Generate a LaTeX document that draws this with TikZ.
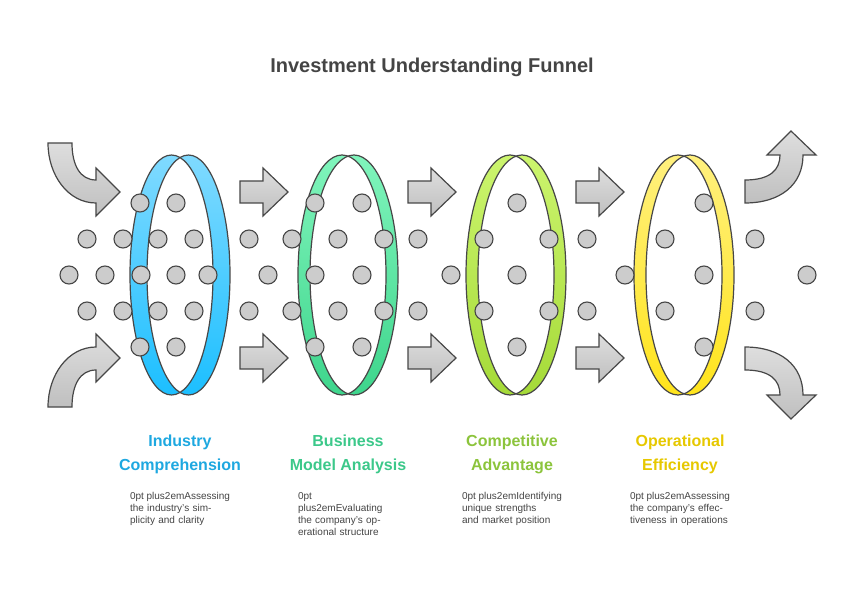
\documentclass[tikz,border=0pt]{standalone}
\usepackage{fontspec}
\setmainfont{Liberation Sans}
\usetikzlibrary{positioning}
\definecolor{edge}{HTML}{474747}
\definecolor{ink}{HTML}{444444}
\definecolor{cyanA}{HTML}{80DAFF}\definecolor{cyanB}{HTML}{1CBFFF}
\definecolor{greenA}{HTML}{80F5BC}\definecolor{greenB}{HTML}{3ED58C}
\definecolor{limeA}{HTML}{CCF56E}\definecolor{limeB}{HTML}{A5DA38}
\definecolor{yellA}{HTML}{FFF07E}\definecolor{yellB}{HTML}{FFE41C}
\definecolor{capBlue}{HTML}{1EA8E0}\definecolor{capGreen}{HTML}{3CC88A}
\definecolor{capLime}{HTML}{8CC43C}\definecolor{capYell}{HTML}{E6C800}
\tikzset{
  flow/.style={draw=edge, line width=1.2pt, top color=black!13, bottom color=black!25},
  dot/.style={circle, draw=edge, line width=1.1pt, fill=black!20, minimum size=18pt, inner sep=0pt},
  stage/.style={font=\bfseries\fontsize{16}{24}\selectfont, align=center},
  desc/.style={text=ink, font=\hyphenpenalty=10000\fontsize{12}{18}\selectfont, align=center, text width=100pt},
}
\newcommand\funnelring[4]{%
  \shade[top color=#2, bottom color=#3] (#1+#4,275) ellipse (50-#4 and 120);
  \shade[top color=#2, bottom color=#3] (#1-#4,275) ellipse (50-#4 and 120);
  \begin{scope}
    \clip (#1-#4,275) ellipse (50-#4 and 120);
    \fill[white] (#1+#4,275) ellipse (50-#4 and 120);
  \end{scope}
  \draw[edge, line width=1.2pt] (#1+#4,275) ellipse (50-#4 and 120);
  \draw[edge, line width=1.2pt] (#1-#4,275) ellipse (50-#4 and 120);
}
\begin{document}
\begin{tikzpicture}[x=1pt, y=-1pt]
  \useasboundingbox (0,0) rectangle (864,612);
  \node[text=ink, font=\bfseries\fontsize{20}{24}\selectfont] (title) at (432,67) {Investment Understanding Funnel};

  % rings
  \funnelring{180}{cyanA}{cyanB}{8.5}
  \funnelring{348}{greenA}{greenB}{6}
  \funnelring{516}{limeA}{limeB}{6}
  \funnelring{684}{yellA}{yellB}{6}

  % arrows between the rings
  \foreach \x in {240,408,576}{
    \draw[flow] (\x,181) -- (\x+23,181) -- (\x+23,168) -- (\x+48,192) -- (\x+23,216) -- (\x+23,203) -- (\x,203) -- cycle;
    \draw[flow] (\x,347) -- (\x+23,347) -- (\x+23,334) -- (\x+48,358) -- (\x+23,382) -- (\x+23,369) -- (\x,369) -- cycle;
  }
  % bent arrows in and out
  \draw[flow] (48,143) -- (72,143) .. controls (72,165) and (80,180) .. (96,180) -- (96,168) -- (120,192) -- (96,216) -- (96,203) .. controls (68,203) and (48,175) .. (48,143) -- cycle;
  \draw[flow] (48,407) -- (72,407) .. controls (72,385) and (80,370) .. (96,370) -- (96,382) -- (120,358) -- (96,334) -- (96,347) .. controls (68,347) and (48,375) .. (48,407) -- cycle;
  \draw[flow] (745,203) -- (745,180) .. controls (770,180) and (780,170) .. (780,155) -- (767,155) -- (791,131) -- (816,155) -- (803,155) .. controls (803,185) and (780,203) .. (745,203) -- cycle;
  \draw[flow] (745,347) -- (745,370) .. controls (770,370) and (780,380) .. (780,395) -- (767,395) -- (791,419) -- (816,395) -- (803,395) .. controls (803,365) and (780,347) .. (745,347) -- cycle;

  % particles
  \foreach \x [count=\i] in {140,176,315,362,517,704}{
    \node[dot] (pt\i) at (\x,203) {};
    \node[dot] (pb\i) at (\x,347) {};
  }
  \foreach \x [count=\i] in {87,123,158,194,249,292,338,384,418,484,549,587,665,755}{
    \node[dot] (qt\i) at (\x,239) {};
    \node[dot] (qb\i) at (\x,311) {};
  }
  \foreach \x [count=\i] in {69,105,141,176,208,268,315,362,451,517,625,704,807}{
    \node[dot] (m\i) at (\x,275) {};
  }

  % captions
  \node[stage, text=capBlue]  (c1) at (180,454) {Industry\\Comprehension};
  \node[stage, text=capGreen] (c2) at (348,454) {Business\\Model Analysis};
  \node[stage, text=capLime]  (c3) at (512,454) {Competitive\\Advantage};
  \node[stage, text=capYell]  (c4) at (680,454) {Operational\\Efficiency};
  \node[desc, below=12pt of c1] (d1) {Assessing the industry's simplicity and clarity};
  \node[desc, below=12pt of c2] (d2) {Evaluating the company's operational structure};
  \node[desc, below=12pt of c3] (d3) {Identifying unique strengths and market position};
  \node[desc, below=12pt of c4] (d4) {Assessing the company's effectiveness in operations};
\end{tikzpicture}
\end{document}
